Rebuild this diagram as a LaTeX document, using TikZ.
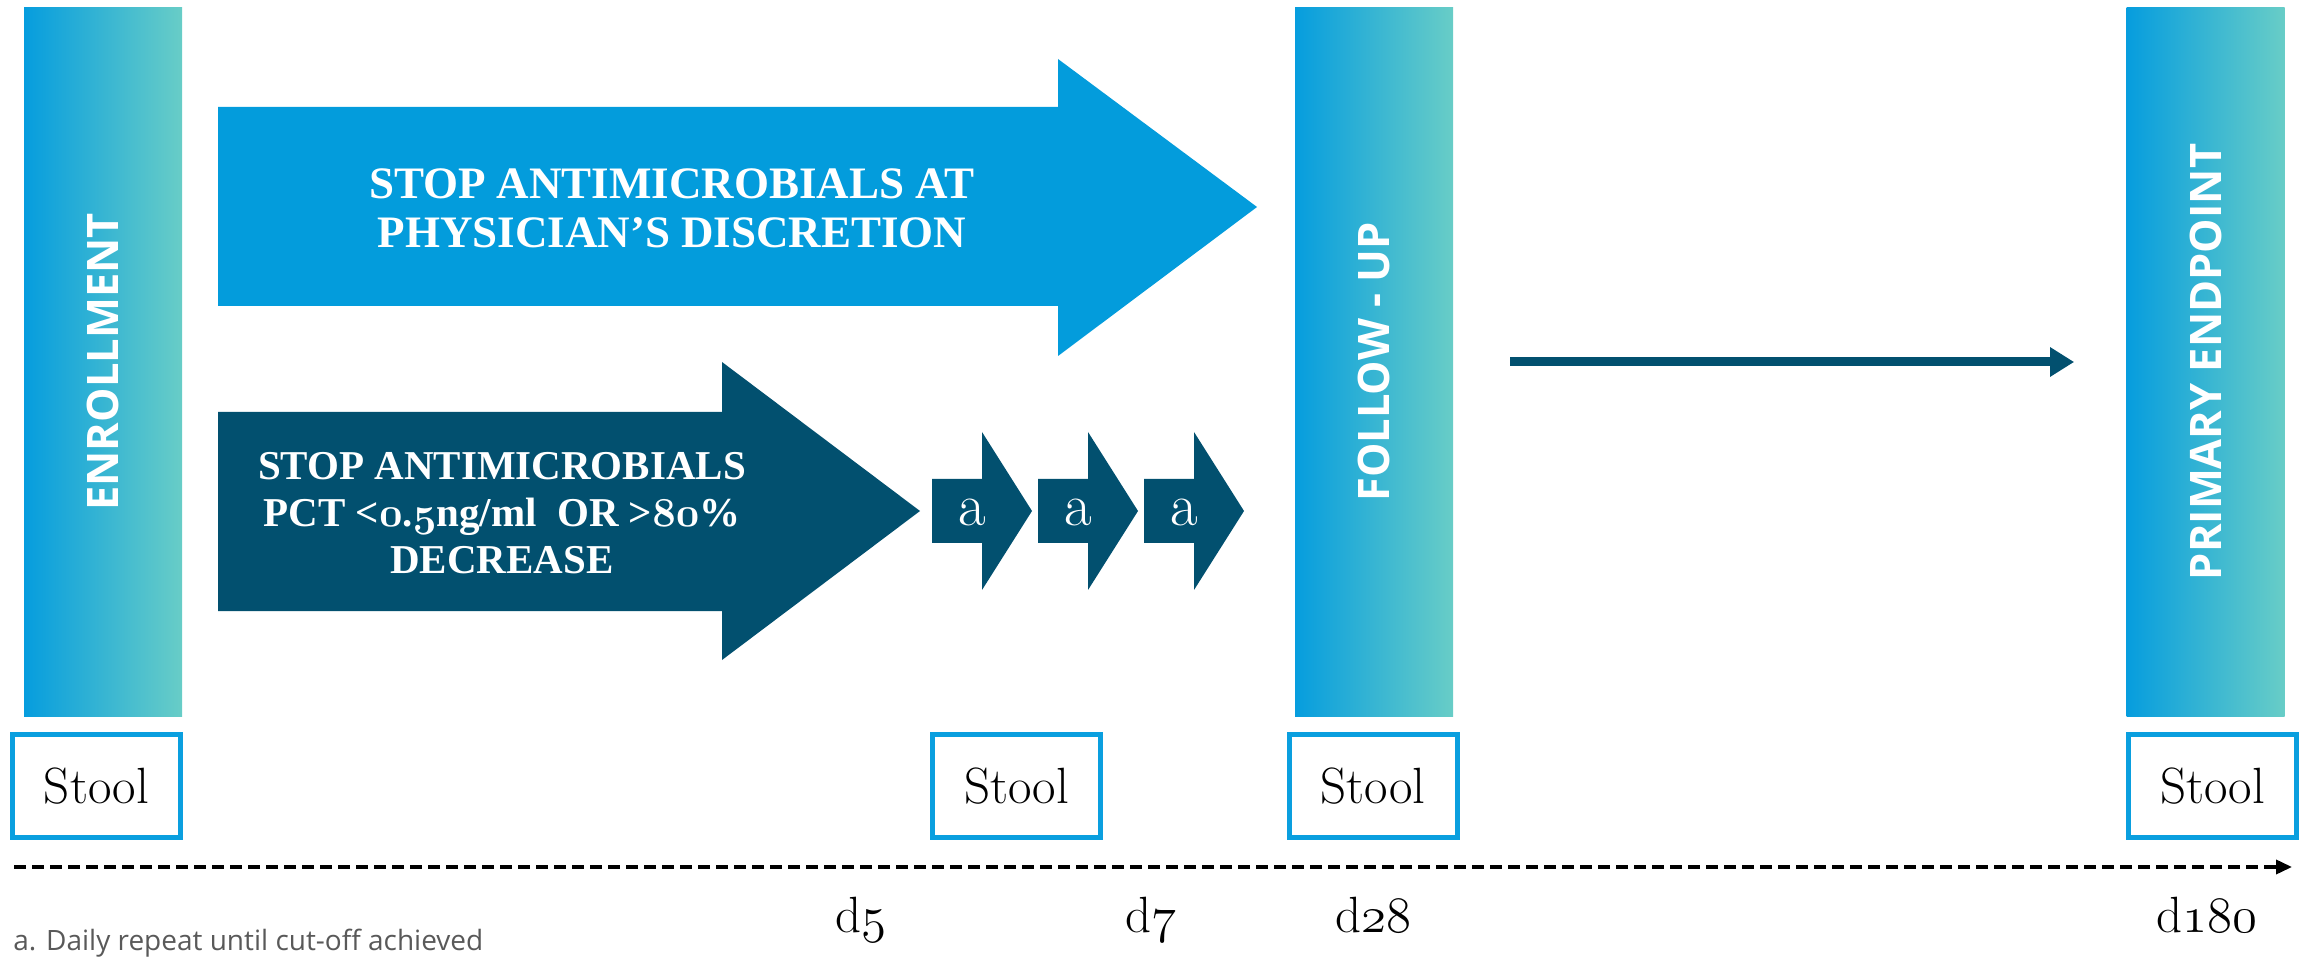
\RequirePackage{fix-cm}
\documentclass[tikz,border=0pt]{standalone}
\usepackage{fontspec}
\newfontfamily\barfont{Open Sans}
\newfontfamily\armfont{Liberation Serif}
\newcommand\osf[1]{{\usefont{OML}{cmm}{m}{it}#1}}
\newcommand\osfb[1]{{\usefont{OML}{cmm}{b}{it}#1}}
\usetikzlibrary{arrows.meta, positioning}
\definecolor{armlight}{HTML}{039CDC}
\definecolor{armdark}{HTML}{02506F}
\definecolor{barleft}{HTML}{069DDE}
\definecolor{barright}{HTML}{68CDC7}
\definecolor{stoolblue}{HTML}{0A9FDF}
\definecolor{notegray}{HTML}{595959}
\tikzset{
  phasebar/.style={rectangle, inner sep=0pt, minimum width=79pt, minimum height=354pt,
    left color=barleft, right color=barright},
  phaselabel/.style={rotate=90, text=white, inner sep=0pt,
    font=\barfont\bfseries\fontsize{21.7}{26}\selectfont},
  stoolbox/.style={draw=stoolblue, line width=2.5pt, fill=white, inner sep=0pt,
    minimum width=84pt, minimum height=51.5pt, font=\fontsize{25.5}{30}\selectfont},
  daylabel/.style={anchor=base, inner sep=0pt, font=\fontsize{25.5}{30}\selectfont},
  armtext/.style={text=white, align=center, inner sep=0pt},
  reptext/.style={text=white, inner sep=0pt, font=\fontsize{30}{36}\selectfont},
  linkarrow/.style={draw=armdark, line width=4.5pt, -{Triangle[length=12pt, width=14pt]}},
  timeline/.style={line width=1.75pt, dash pattern=on 6pt off 3pt,
    -{Triangle[length=8pt, width=7pt]}},
  notetext/.style={anchor=base west, inner sep=0pt, text=notegray,
    font=\barfont\fontsize{14}{17}\selectfont},
}
\begin{document}
\begin{tikzpicture}[x=0.5pt, y=-0.5pt]
  \useasboundingbox (0,0) rectangle (2305,961);
  % phases
  \node[phasebar] (enrol) at (103,362) {};
  \node[phaselabel] (enrollabel) at (enrol) {ENROLLMENT};
  \node[phasebar] (follow) at (1374,362) {};
  \node[phaselabel] (followlabel) at (follow) {FOLLOW - UP};
  \node[phasebar] (primary) at (2205.5,362) {};
  \node[phaselabel] (primarylabel) at (primary) {PRIMARY ENDPOINT};
  % arms
  \fill[armlight] (218,107) -- (1058,107) -- (1058,59) -- (1257,207)
    -- (1058,356) -- (1058,306) -- (218,306) -- cycle;
  \node[armtext, font=\armfont\bfseries\fontsize{22.5}{24.5}\selectfont] (stopdisc) at (672,208)
    {STOP ANTIMICROBIALS AT\\PHYSICIAN’S DISCRETION};
  \fill[armdark] (218,412) -- (722,412) -- (722,362) -- (920,511)
    -- (722,660) -- (722,611) -- (218,611) -- cycle;
  \node[armtext, font=\armfont\bfseries\fontsize{20.5}{23.5}\selectfont] (stoppct) at (502,513)
    {STOP ANTIMICROBIALS\\PCT <\osfb{0}.\osfb{5}ng/ml\ \ OR >\osfb{80}\%\\DECREASE};
  \foreach \i in {1,2,3} {
    \pgfmathsetmacro\x{932+106*(\i-1)}
    \fill[armdark] (\x,479) -- ++(50,0) -- ++(0,-47) -- ++(50,79)
      -- ++(-50,79) -- ++(0,-47) -- ++(-50,0) -- cycle;
    \node[reptext] (rep\i) at (\x+40,512) {a};
  }
  \draw[linkarrow, shorten <=28.5pt, shorten >=26pt] (follow) -- (primary);
  % samples
  \node[stoolbox] (stool1) at (96.5,786) {Stool};
  \node[stoolbox] (stool2) at (1016.5,786) {Stool};
  \node[stoolbox] (stool3) at (1373,786) {Stool};
  \node[stoolbox] (stool4) at (2212.5,786) {Stool};
  % time axis
  \coordinate (tstart) at (14,867);
  \coordinate (tend) at (2292,867);
  \draw[timeline] (tstart) -- (tend);
  \node[daylabel] (day5) at (861,932) {d\osf{5}};
  \node[daylabel] (day7) at (1151,932) {d\osf{7}};
  \node[daylabel] (day28) at (1373,932) {d\osf{28}};
  \node[daylabel] (day180) at (2207,932) {d\osf{180}};
  \node[notetext] (note) at (13,950) {a. Daily repeat until cut-off achieved};
\end{tikzpicture}
\end{document}
